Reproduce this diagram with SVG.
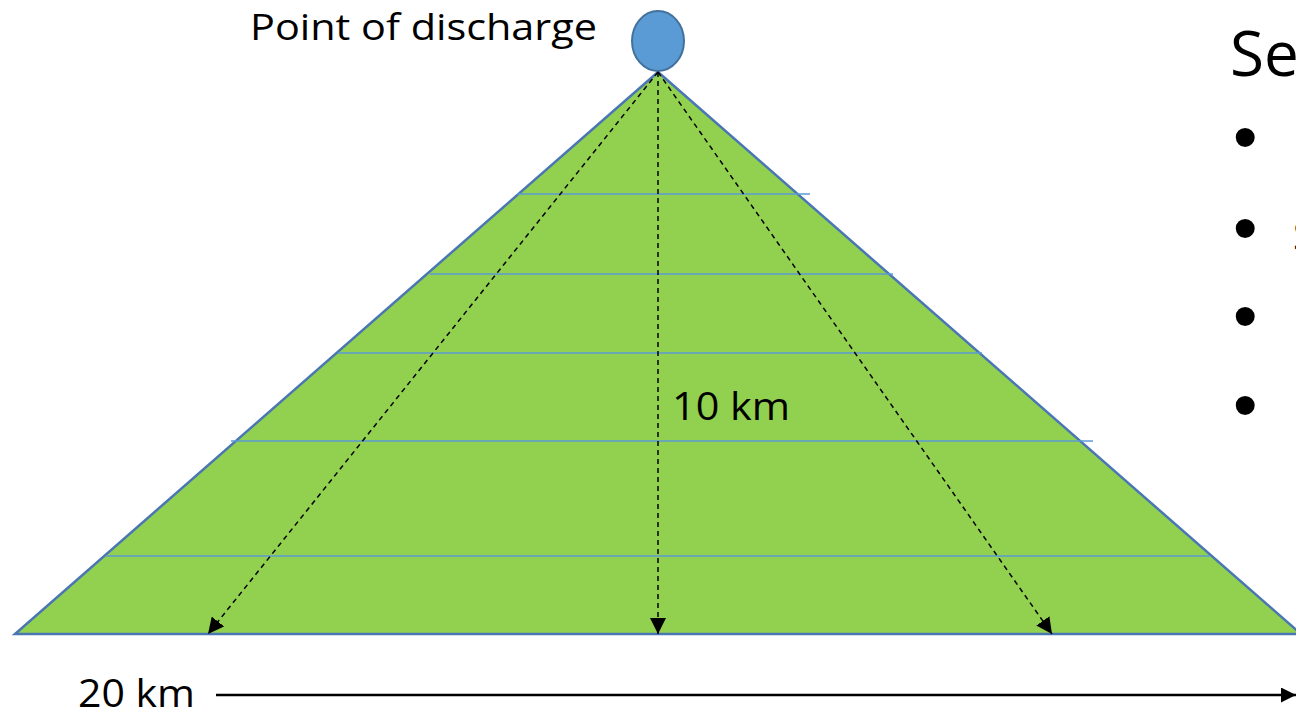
<svg xmlns="http://www.w3.org/2000/svg" width="1296" height="715" viewBox="0 0 1296 715">
<style>
.t{font-family:"Open Sans","Liberation Sans",sans-serif;fill:#000}
.b{font-family:"Liberation Sans",Arial,sans-serif;fill:#000;font-size:70px}
.grid{stroke:#5b9bd5;stroke-width:1.5}
.dash{stroke:#000;stroke-width:1.5;stroke-dasharray:5 4;fill:none}
</style>
<defs>
<marker id="ah" viewBox="0 0 10 10" refX="10" refY="5" markerWidth="16" markerHeight="16" markerUnits="userSpaceOnUse" orient="auto"><path d="M0,0L10,5L0,10z" fill="#000"/></marker>
<marker id="ah2" viewBox="0 0 10 10" refX="10" refY="5" markerWidth="15" markerHeight="15" markerUnits="userSpaceOnUse" orient="auto"><path d="M0,0L10,5L0,10z" fill="#000"/></marker>
</defs>
<rect width="1296" height="715" fill="#fff"/>
<g id="plume">
<polygon points="658,72 15,634 1301,634" fill="#92d050" stroke="#4a76b4" stroke-width="2.5"/>
<line class="grid" x1="517" y1="194" x2="810" y2="194"/>
<line class="grid" x1="430" y1="274" x2="893" y2="274"/>
<line class="grid" x1="338" y1="353" x2="982" y2="353"/>
<line class="grid" x1="231" y1="441" x2="1093" y2="441"/>
<line class="grid" x1="106" y1="556" x2="1210" y2="556"/>
</g>
<g id="source">
<ellipse cx="658" cy="41" rx="26" ry="30" fill="#5b9bd5" stroke="#41719c" stroke-width="2"/>
<text class="t" x="250" y="40" font-size="36" textLength="347" lengthAdjust="spacingAndGlyphs">Point of discharge</text>
</g>
<g id="connectors">
<line class="dash" x1="658" y1="72" x2="208" y2="634" marker-end="url(#ah)"/>
<line class="dash" x1="658" y1="72" x2="658" y2="634" marker-end="url(#ah)"/>
<line class="dash" x1="658" y1="72" x2="1052" y2="634" marker-end="url(#ah)"/>
<line x1="216" y1="695" x2="1296" y2="695" stroke="#000" stroke-width="2.5" marker-end="url(#ah2)"/>
</g>
<g id="labels">
<text class="t" x="672" y="420" font-size="38" textLength="118" lengthAdjust="spacingAndGlyphs">10 km</text>
<text class="t" x="78" y="707" font-size="38" textLength="117" lengthAdjust="spacingAndGlyphs">20 km</text>
</g>
<g id="sidetext">
<text class="t" x="1230" y="76" font-size="62">Se</text>
<text class="b" x="1233" y="161">•</text>
<text class="b" x="1233" y="252">•</text>
<text class="b" x="1233" y="340">•</text>
<text class="b" x="1233" y="429">•</text>
<text class="t" x="1293" y="250" font-size="40">S</text>
</g>
</svg>
